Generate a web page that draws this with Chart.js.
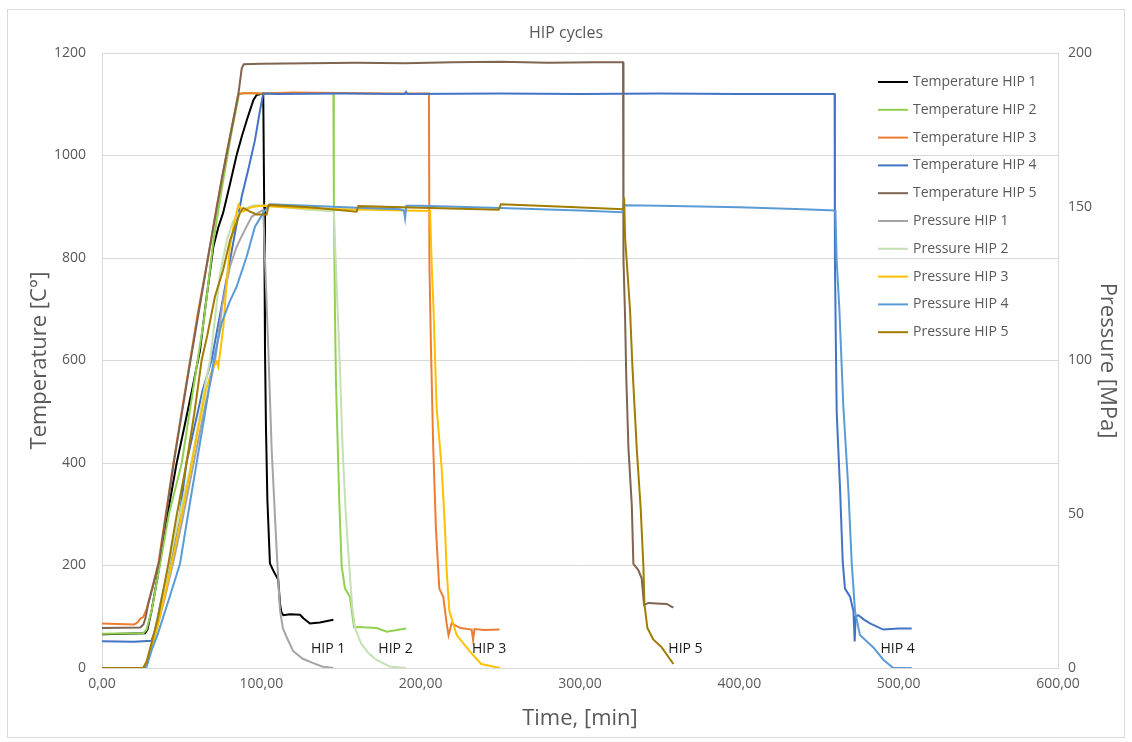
<!DOCTYPE html>
<html>
<head>
<meta charset="utf-8">
<script src="https://cdn.jsdelivr.net/npm/chart.js@4.4.1/dist/chart.umd.min.js"></script>
<style>
  body { margin: 0; background: #fff; }
  canvas { display: block; }
</style>
</head>
<body>
<canvas id="myChart" width="1132" height="742"></canvas>
<script>
const ctx = document.getElementById('myChart');

// Temperature HIP 1..5  (time in min, temperature in C)
const tempHip1X = [0, 27, 28.5, 31, 35, 40, 46.8, 52, 57, 61.5, 65.5, 69.9, 73, 76, 80, 84.5, 88, 91.5, 95, 97, 101.2, 101.8, 102.3, 102.9, 103.8, 105.4, 107.5, 109.6, 110.6, 111.7, 112.5, 113.8, 118, 124.3, 126.4, 130.5, 136.8, 145.2];
const tempHip1Y = [66, 68, 75, 110, 180, 280, 399, 475, 550, 620, 720, 822, 860, 888, 940, 1001, 1040, 1075, 1108, 1118, 1121, 900, 620, 471, 328, 204, 190, 178, 172, 126, 110, 103, 105, 104, 97, 87, 89, 94];

const tempHip2X = [0, 26, 28, 31, 36.5, 42, 50, 58, 64, 70, 76, 81, 86, 90, 100, 120, 145.2, 145.5, 146.2, 146.8, 148.9, 150.4, 152.5, 155.6, 158.2, 160.9, 172.4, 178.7, 190.8];
const tempHip2Y = [67, 68, 75, 110, 204, 300, 399, 560, 680, 835, 950, 1040, 1120, 1122, 1121, 1122, 1122, 922, 699, 564, 326, 199, 155, 139, 79, 80, 78, 71, 77];

const tempHip3X = [0, 10, 20, 22, 24, 26, 28, 31, 35.4, 40, 44.8, 50, 55, 60, 66.5, 72, 78, 85.6, 90, 100, 120, 150, 180, 205.2, 205.5, 206.5, 207.9, 209.6, 211.7, 214.2, 216.3, 217.5, 219.4, 225, 232, 232.9, 233.8, 240, 249.5];
const tempHip3Y = [87, 86, 85, 88, 96, 100, 115, 150, 204, 300, 399, 500, 595, 690, 800, 900, 1000, 1120, 1122, 1121, 1123, 1122, 1121, 1121, 787, 620, 429, 270, 155, 139, 87, 64, 87, 78, 75, 55, 76, 74, 75];

const tempHip4X = [0, 20, 31, 33, 37, 42.7, 48, 53, 58, 63, 68.8, 75, 80, 87.7, 92, 96, 99, 101.2, 110, 150, 190, 190.8, 191.6, 250, 300, 350, 400, 459.8, 460, 460.5, 461.1, 463.2, 464.9, 466.3, 469.5, 471.6, 472.4, 473, 474.7, 478, 482, 490.3, 500, 508.2];
const tempHip4Y = [52, 51, 53, 70, 130, 204, 280, 400, 470, 540, 601, 705, 790, 920, 975, 1030, 1085, 1121, 1120, 1121, 1120, 1124, 1120, 1121, 1120, 1121, 1120, 1120, 795, 652, 500, 350, 207, 155, 139, 111, 52, 100, 103, 95, 87, 75, 77, 77];

const tempHip5X = [0, 24, 26, 27.5, 29, 32, 36, 45, 55, 66.5, 75.5, 85.6, 87.7, 89, 100, 130, 160, 190, 220, 250, 280, 310, 327, 327.3, 328.3, 329, 330.4, 332.5, 333.5, 336.6, 338.7, 340.2, 342.9, 348, 354.4, 358.6];
const tempHip5Y = [78, 79, 85, 100, 125, 160, 210, 400, 590, 800, 960, 1120, 1170, 1178, 1179, 1180, 1181, 1180, 1182, 1183, 1181, 1182, 1182, 795, 683, 572, 429, 318, 203, 191, 175, 123, 127, 126, 125, 118];

// Pressure HIP 1..5  (time in min, pressure in MPa)
const presHip1X = [0, 26, 28, 31, 35, 40, 45, 50, 55, 60, 65, 71, 75.5, 80.3, 84.5, 88.7, 94, 98, 101.2, 102.5, 104.4, 106.5, 109.6, 111.7, 113.5, 115.9, 120, 126, 132.6, 138, 145.2];
const presHip1Y = [0, 0, 1.5, 6, 14, 24, 35, 47, 60, 73, 86, 100, 118, 130.5, 137, 141.5, 146.8, 148, 149, 130, 103.4, 70.9, 38.4, 18.9, 13, 10, 5.5, 3, 1.6, 0.5, 0];

const presHip2X = [0, 26, 28, 31, 35, 40, 45, 50, 55, 60, 64, 67.8, 71, 74, 78.3, 82, 86, 90, 95, 100, 110, 120, 130, 140, 145.5, 146.5, 147.9, 149.5, 151, 153, 155.2, 157, 158.8, 162.6, 167, 172, 180.5, 190.8];
const presHip2Y = [0, 0, 2, 7, 16, 28, 41, 53, 64, 78, 90, 100, 114, 128, 139, 145, 148, 149.5, 150.5, 150.5, 150, 149.5, 149, 148.7, 148.5, 135, 116.5, 95, 71.5, 50, 33, 20, 13, 8, 5, 2.7, 0.5, 0];

const presHip3X = [0, 26, 28, 31, 35, 40, 45, 50, 55, 60, 65, 68.8, 70.5, 72, 73, 76.2, 78.3, 80.3, 83, 85.6, 88.7, 92, 95, 100, 110, 130, 150, 170, 190, 205.9, 207, 208, 210, 213.2, 215.3, 216.3, 218, 222.6, 231, 238, 249.8];
const presHip3Y = [0, 0, 2, 6, 14, 25, 37, 50, 63, 77, 90, 96.4, 98.5, 99.6, 98, 111, 126, 137, 145, 150.6, 148.4, 149.5, 150, 150.3, 150, 149.5, 149.2, 149, 148.8, 148.6, 130, 117.9, 84.8, 64.9, 45, 31.8, 18.5, 10.7, 5.3, 1.3, 0];

const presHip4X = [0, 26, 28, 31.2, 35, 38.5, 43, 49, 54, 59.4, 65, 70.5, 75, 80, 84.5, 90.8, 96, 101.2, 105.5, 130, 160, 187, 189.5, 190.2, 191, 200, 250, 300, 326.5, 327.5, 350, 400, 440, 460.3, 461.1, 462.8, 465.3, 468.4, 470.5, 472.6, 475.7, 484.1, 490.4, 496.6, 508.2];
const presHip4Y = [0, 0, 0.4, 5.9, 11, 16.7, 24, 34, 50, 66.7, 84, 101, 112, 119, 124, 133.8, 143.5, 148, 150.8, 150.3, 149.7, 149.2, 148.8, 146.3, 150.3, 150.3, 149.6, 148.8, 148.2, 150.5, 150.3, 149.8, 149.2, 148.8, 132.5, 116.5, 84.8, 58.3, 34.5, 18.5, 10.7, 6.7, 2.7, 0, 0];

const presHip5X = [0, 25.8, 28, 31, 35, 41.7, 47, 53, 58, 62.5, 66, 70.9, 76, 80.3, 86.6, 88.7, 92.9, 97.1, 103.4, 104.6, 130, 159.8, 160.9, 200, 249, 250.3, 290, 327.2, 327.7, 328.3, 329.3, 331.4, 332.9, 335.6, 338.1, 339.8, 340.4, 342.3, 346, 351.3, 358.6];
const presHip5Y = [0, 0, 2, 8, 16, 34, 50, 66.6, 83, 100, 108, 120.8, 129.4, 139, 148, 149.6, 148.4, 147.5, 147.5, 150.6, 149.8, 148.4, 150.2, 149.7, 149, 150.8, 150, 149.2, 153, 140, 132.5, 116.5, 98, 71.5, 51.7, 33, 21, 13, 9.3, 6.7, 1.3];

const seriesLabels = ['Temperature HIP 1', 'Temperature HIP 2', 'Temperature HIP 3', 'Temperature HIP 4', 'Temperature HIP 5',
  'Pressure HIP 1', 'Pressure HIP 2', 'Pressure HIP 3', 'Pressure HIP 4', 'Pressure HIP 5'];
const seriesColors = ['#000000', '#92D050', '#ED7D31', '#4472C4', '#7F6451',
  '#A5A5A5', '#C5E0B4', '#FFC000', '#5B9BD5', '#A07D00'];

// little "HIP n" notes at the bottom of the plot
const noteLabels = ['HIP 1', 'HIP 2', 'HIP 3', 'HIP 5', 'HIP 4'];
const noteX = [141.9, 184.2, 243, 366.2, 499.3];
const noteY = [38, 38, 38, 38, 38];

const xTicks = [0, 100, 200, 300, 400, 500, 600];

const seriesX = [tempHip1X, tempHip2X, tempHip3X, tempHip4X, tempHip5X, presHip1X, presHip2X, presHip3X, presHip4X, presHip5X];
const seriesY = [tempHip1Y, tempHip2Y, tempHip3Y, tempHip4Y, tempHip5Y, presHip1Y, presHip2Y, presHip3Y, presHip4Y, presHip5Y];

const FONT = "'Open Sans', 'Liberation Sans', sans-serif";
const GREY = '#595959';

let datasets = [];
for (let i = 0; i < seriesLabels.length; i++) {
    let pts = seriesX[i].map(function (x, k) { return { x: x, y: seriesY[i][k] }; });
    datasets.push({
        label: seriesLabels[i],
        data: pts,
        borderColor: seriesColors[i],
        backgroundColor: seriesColors[i],
        borderWidth: 2,
        pointRadius: 0,
        tension: 0,
        fill: false,
        yAxisID: i < 5 ? 'y' : 'y2',
        order: -i   // later series on top, like the spreadsheet
    });
}

const frame = {
    id: 'frame',
    beforeDraw(chart) {
        const c = chart.ctx;
        c.save();
        c.fillStyle = '#ffffff';
        c.fillRect(0, 0, chart.width, chart.height);
        c.strokeStyle = '#d9d9d9';
        c.lineWidth = 1;
        c.strokeRect(7.5, 9.5, chart.width - 15, chart.height - 14);
        c.restore();
    }
};

const notes = {
    id: 'notes',
    afterDatasetsDraw(chart) {
        const c = chart.ctx;
        const xs = chart.scales.x, ys = chart.scales.y;
        c.save();
        c.font = '14px ' + FONT;
        c.fillStyle = '#1a1a1a';
        c.textAlign = 'center';
        c.textBaseline = 'middle';
        for (let i = 0; i < noteLabels.length; i++) {
            c.fillText(noteLabels[i], xs.getPixelForValue(noteX[i]), ys.getPixelForValue(noteY[i]));
        }
        c.restore();
    }
};

const sideLegend = {
    id: 'sideLegend',
    afterDraw(chart) {
        const c = chart.ctx;
        c.save();
        c.font = '14px ' + FONT;
        c.textBaseline = 'middle';
        c.textAlign = 'left';
        chart.data.datasets.forEach(function (ds, i) {
            const y = 82 + i * 27.8;
            c.strokeStyle = ds.borderColor;
            c.lineWidth = 2;
            c.beginPath();
            c.moveTo(878, y);
            c.lineTo(908, y);
            c.stroke();
            c.fillStyle = GREY;
            c.fillText(ds.label, 913, y);
        });
        c.restore();
    }
};

new Chart(ctx, {
    type: 'line',
    data: { datasets: datasets },
    options: {
        responsive: false,
        animation: false,
        layout: { padding: 0 },
        plugins: {
            legend: { display: false },
            tooltip: { enabled: false },
            title: {
                display: true,
                text: 'HIP cycles',
                color: GREY,
                font: { family: FONT, size: 16, weight: 'normal' },
                padding: { top: 24, bottom: 9.8 }
            }
        },
        scales: {
            x: {
                type: 'linear',
                min: 0,
                max: 600,
                afterBuildTicks: function (s) { s.ticks = xTicks.map(v => ({ value: v })); },
                ticks: {
                    color: GREY,
                    font: { family: FONT, size: 14 },
                    padding: 8,
                    maxRotation: 0,
                    callback: v => v.toFixed(2).replace('.', ',')
                },
                grid: { display: false, drawTicks: false },
                border: { display: false },
                title: {
                    display: true,
                    text: 'Time, [min]',
                    color: GREY,
                    font: { family: FONT, size: 22 },
                    padding: { top: 0, bottom: 10 }
                },
                afterFit: function (s) { s.height = 74; }
            },
            y: {
                position: 'left',
                min: 0,
                max: 1200,
                ticks: {
                    stepSize: 200,
                    color: GREY,
                    font: { family: FONT, size: 14 },
                    padding: 16,
                    callback: v => String(v)
                },
                grid: { color: '#d9d9d9', drawTicks: false },
                border: { display: true, color: '#d9d9d9' },
                title: {
                    display: true,
                    text: 'Temperature [C°]',
                    color: GREY,
                    font: { family: FONT, size: 22 },
                    padding: { top: 27, bottom: 0 }
                },
                afterFit: function (s) { s.width = 102; }
            },
            y2: {
                position: 'right',
                min: 0,
                max: 200,
                ticks: {
                    stepSize: 50,
                    color: GREY,
                    font: { family: FONT, size: 14 },
                    padding: 10,
                    callback: v => String(v)
                },
                grid: { display: false, drawTicks: false },
                border: { display: true, color: '#d9d9d9' },
                title: {
                    display: true,
                    text: 'Pressure [MPa]',
                    color: GREY,
                    font: { family: FONT, size: 22 },
                    padding: { top: 12, bottom: 0 }
                },
                afterFit: function (s) { s.width = 74; }
            }
        }
    },
    plugins: [frame, notes, sideLegend]
});
</script>
</body>
</html>
